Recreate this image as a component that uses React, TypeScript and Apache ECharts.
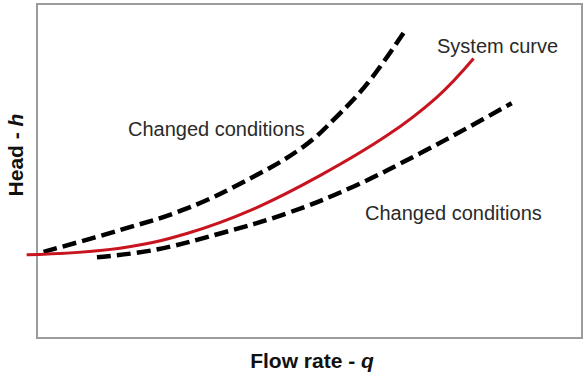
import React, { useEffect, useRef } from "react";
import * as echarts from "echarts";

const systemCurve: [number, number][] = [
  [-1.9, 24.9], [15.2, 26.9], [27.5, 31.3], [39.7, 38.6], [51.9, 48.6],
  [64.2, 60.6], [73.3, 72.0], [80.1, 83.7],
];
const upperChanged: [number, number][] = [
  [1.2, 25.8], [15.2, 32.3], [27.5, 38.8], [39.7, 48.3], [48.9, 57.3],
  [55.0, 66.3], [61.1, 77.2], [67.8, 92.7],
];
const lowerChanged: [number, number][] = [
  [11.0, 24.2], [21.3, 26.3], [33.6, 31.3], [45.8, 37.3], [58.0, 45.3],
  [70.3, 55.3], [79.4, 63.3], [87.1, 70.3],
];
const labels = {
  system: "System curve",
  changed: "Changed conditions",
  xTitle: "Flow rate - ",
  xVar: "q",
  yTitle: "Head - ",
  yVar: "h",
};

export default function App() {
  const ref = useRef<HTMLDivElement>(null);
  useEffect(() => {
    if (!ref.current) return;
    const chart = echarts.init(ref.current, undefined, { renderer: "svg" });
    const font = "'Liberation Sans', Arial, sans-serif";
    const dashed = {
      type: "line",
      smooth: 0.4,
      showSymbol: false,
      clip: false,
      lineStyle: { color: "#000", width: 4.5, type: [14, 6], cap: "butt" },
    };
    const rich = {
      b: { fontFamily: font, fontSize: 21, fontWeight: "bold", fill: "#111" },
      i: { fontFamily: font, fontSize: 21, fontWeight: "bold", fontStyle: "italic", fill: "#111" },
    };
    chart.setOption({
      animation: false,
      grid: { left: 26.1, right: 5, top: 4, bottom: 47, show: false },
      xAxis: {
        type: "value", min: -2, max: 100,
        axisLine: { show: false }, axisTick: { show: false },
        axisLabel: { show: false }, splitLine: { show: false },
      },
      yAxis: {
        type: "value", min: 0, max: 100,
        axisLine: { show: false }, axisTick: { show: false },
        axisLabel: { show: false }, splitLine: { show: false },
      },
      series: [
        { ...dashed, name: "upper", data: upperChanged },
        { ...dashed, name: "lower", data: lowerChanged },
        {
          type: "line", name: labels.system, smooth: 0.4, showSymbol: false, clip: false,
          data: systemCurve,
          lineStyle: { color: "#c8141f", width: 3 },
        },
      ],
      graphic: [
        {
          type: "rect", z: -10, silent: true,
          shape: { x: 37, y: 4, width: 545, height: 334 },
          style: { fill: "#fff", stroke: "#9c9c9c", lineWidth: 2 },
        },
        {
          type: "text", x: 128, y: 129,
          style: { text: labels.changed, font: `20px ${font}`, fill: "#2a2a2a", verticalAlign: "middle" },
        },
        {
          type: "text", x: 365, y: 213,
          style: { text: labels.changed, font: `20px ${font}`, fill: "#2a2a2a", verticalAlign: "middle" },
        },
        {
          type: "text", x: 437, y: 46,
          style: { text: labels.system, font: `20px ${font}`, fill: "#2a2a2a", verticalAlign: "middle" },
        },
        {
          type: "text", x: 312, y: 360,
          style: {
            text: `{b|${labels.xTitle}}{i|${labels.xVar}}`,
            align: "center", verticalAlign: "middle", rich,
          },
        },
        {
          type: "text", x: 15, y: 155, rotation: Math.PI / 2,
          style: {
            text: `{b|${labels.yTitle}}{i|${labels.yVar}}`,
            align: "center", verticalAlign: "middle", rich,
          },
        },
      ],
    });
    return () => chart.dispose();
  }, []);
  return <div ref={ref} style={{ width: 587, height: 385, position: "fixed", left: 0, top: 0, background: "#fff" }} />;
}
